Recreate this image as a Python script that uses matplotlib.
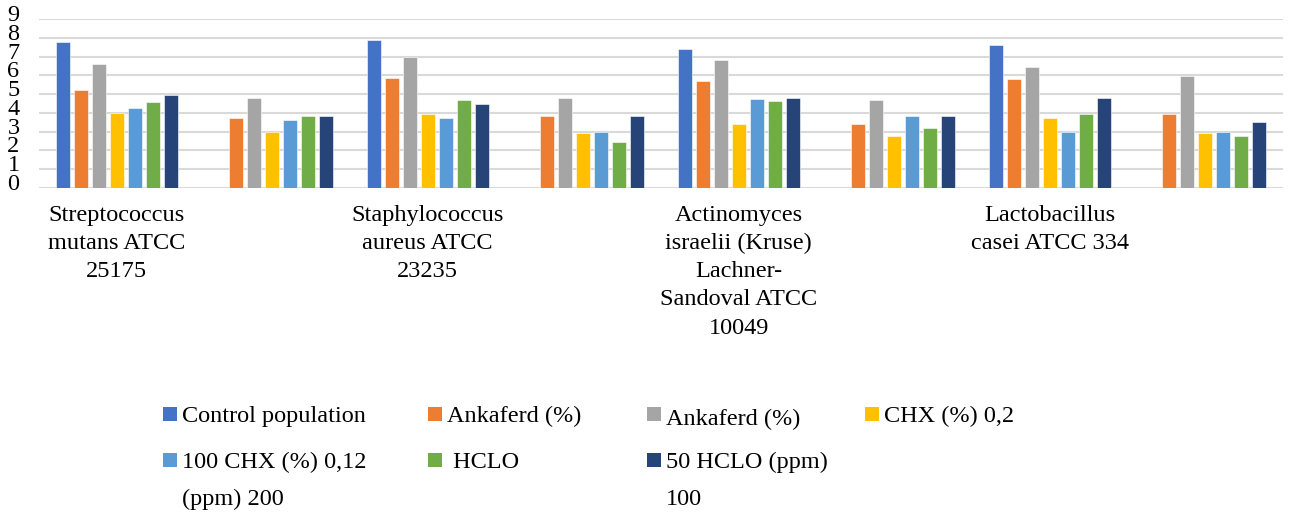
import numpy as np
from matplotlib import pyplot as plt
from matplotlib.patches import Rectangle
from matplotlib.transforms import ScaledTranslation

plt.rcParams['font.family'] = ['Liberation Serif', 'DejaVu Serif']

categories = [
    'Streptococcus\nmutans ATCC\n25175', '',
    'Staphylococcus\naureus ATCC\n23235', '',
    'Actinomyces\nisraelii (Kruse)\nLachner-\nSandoval ATCC\n10049', '',
    'Lactobacillus\ncasei ATCC 334', '',
]

series_names = ['Control population', 'Ankaferd (%)', 'Ankaferd (%)', 'CHX (%) 0,2',
                '100 CHX (%) 0,12\n(ppm) 200', ' HCLO', '50 HCLO (ppm)\n100']
colors = ['#4472C4', '#ED7D31', '#A5A5A5', '#FFC000', '#5B9BD5', '#70AD47', '#264478']

control = [7.80, np.nan, 7.87, np.nan, 7.41, np.nan, 7.62, np.nan]
ankaferd_a = [5.23, 3.74, 5.87, 3.85, 5.69, 3.39, 5.83, 3.92]
ankaferd_b = [6.61, 4.77, 6.95, 4.80, 6.83, 4.70, 6.44, 5.94]
chx_02 = [3.97, 2.96, 3.92, 2.94, 3.42, 2.78, 3.74, 2.94]
chx_012 = [4.27, 3.62, 3.72, 2.96, 4.73, 3.85, 3.00, 2.96]
hclo_a = [4.56, 3.83, 4.68, 2.45, 4.63, 3.21, 3.95, 2.78]
hclo_b = [4.95, 3.83, 4.45, 3.85, 4.77, 3.85, 4.77, 3.53]

series = [control, ankaferd_a, ankaferd_b, chx_02, chx_012, hclo_a, hclo_b]

W, H = 1293, 516
fig = plt.figure(figsize=(W / 100, H / 100), dpi=100)
ax = fig.add_axes([39 / W, 1 - 188 / H, 1244 / W, 169 / H])

x = np.arange(len(categories))
pitch = 0.1158
width = 0.09
for j, (vals, c) in enumerate(zip(series, colors)):
    ax.bar(x + (j - 3) * pitch, vals, width=width, color=c, zorder=3,
           edgecolor='white', linewidth=0.4)

ax.set_xlim(-0.5, len(categories) - 0.5)
ax.set_ylim(0, 9)
ax.set_yticks(range(10))
ax.yaxis.grid(True, color='#D9D9D9', linewidth=1.5, zorder=0)
for s in ax.spines.values():
    s.set_visible(False)
ax.tick_params(axis='y', length=0, labelsize=17.5, pad=14)
ax.tick_params(axis='x', length=0, labelsize=17.5, pad=12)
off = ScaledTranslation(0, 6 / 100, fig.dpi_scale_trans)
for lab in ax.get_yticklabels():
    lab.set_transform(lab.get_transform() + off)
ax.set_xticks(x)
ax.set_xticklabels(categories, linespacing=1.45)

# legend drawn by hand to follow the reference layout
legend_pos = [(163, 407), (428, 407), (647, 407), (865, 407),
              (163, 453), (428, 453), (647, 453)]
text_dy = [0, 0, 3, 0, 0, 0, 0]
for (px, py), name, c, dy in zip(legend_pos, series_names, colors, text_dy):
    fig.add_artist(Rectangle((px / W, 1 - (py + 14) / H), 14 / W, 14 / H,
                             transform=fig.transFigure, color=c, lw=0))
    for k, line in enumerate(name.split('\n')):
        base = py + 15 + dy + k * 37
        fig.text((px + 19) / W, 1 - base / H, line, fontsize=17.5,
                 va='baseline', ha='left')

fig.savefig('out.png', dpi=100)
